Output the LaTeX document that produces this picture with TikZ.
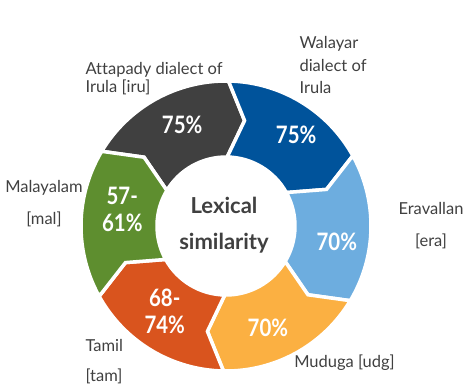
\documentclass[tikz,border=0pt]{standalone}
\usepackage{fontspec}
\setmainfont[Ligatures=NoCommon]{Lato}
\newfontfamily\pctfont[FakeStretch=0.85]{Lato}
\usetikzlibrary{positioning}

\definecolor{segGray}{HTML}{404040}
\definecolor{segBlue}{HTML}{00539B}
\definecolor{segSky}{HTML}{6DADDF}
\definecolor{segOrange}{HTML}{FBB042}
\definecolor{segRed}{HTML}{D9541E}
\definecolor{segGreen}{HTML}{5E8E2F}
\definecolor{labGray}{HTML}{404040}

\begin{document}
\begin{tikzpicture}[x=1pt,y=1pt,
  seg/.style={draw=white,line width=3.5pt,line join=miter},
  pct/.style={text=white,align=center,font=\pctfont\bfseries\fontsize{24}{27}\selectfont},
  lab/.style={text=labGray,font=\fontsize{16.5}{18}\selectfont}]
  \useasboundingbox (-226,-162) rectangle (242,226);
  % ring of chevrons, clockwise
  \foreach \s/\c/\a/\r/\n [count=\i] in {149/segGray/113.5/110/75\%,
      89/segBlue/52.4/115/75\%, 29/segSky/-8.2/112/70\%,
      -31/segOrange/-67.6/110/70\%, -91/segRed/-125.7/105/{68-\\74\%},
      -151/segGreen/171/105/{57-\\61\%}}
  {
    \pgfmathsetmacro\e{\s-60}
    \filldraw[seg,fill=\c] (\s:145) arc[start angle=\s,end angle=\e,radius=145]
      -- (\e-9:107) -- (\e:69) arc[start angle=\e,end angle=\s,radius=69]
      -- (\s-9:107) -- cycle;
    \node[pct] (pct\i) at (\a:\r) {\n};
  }
  \node[align=center,text=labGray,font=\bfseries\fontsize{22}{36}\selectfont]
    (centre) at (-2,1) {Lexical\\similarity};
  % language labels
  \node[lab,align=left,anchor=west] (iru) at (-144,147) {Attapady dialect of\\Irula [iru]};
  \node[lab,align=left,anchor=west,font=\fontsize{16.5}{22.5}\selectfont] (walayar) at (70,161) {Walayar\\dialect of\\Irula};
  \node[lab,align=center,font=\fontsize{16.5}{32}\selectfont] (era) at (205,0) {Eravallan\\{}[era]};
  \node[lab,align=center,font=\fontsize{16.5}{32}\selectfont] (mal) at (-182,22) {Malayalam\\{}[mal]};
  \node[lab,align=left,anchor=west,font=\fontsize{16.5}{30}\selectfont] (tam) at (-144,-136) {Tamil\\{}[tam]};
  \node[lab] (udg) at (118.5,-137) {Muduga [udg]};
\end{tikzpicture}
\end{document}
